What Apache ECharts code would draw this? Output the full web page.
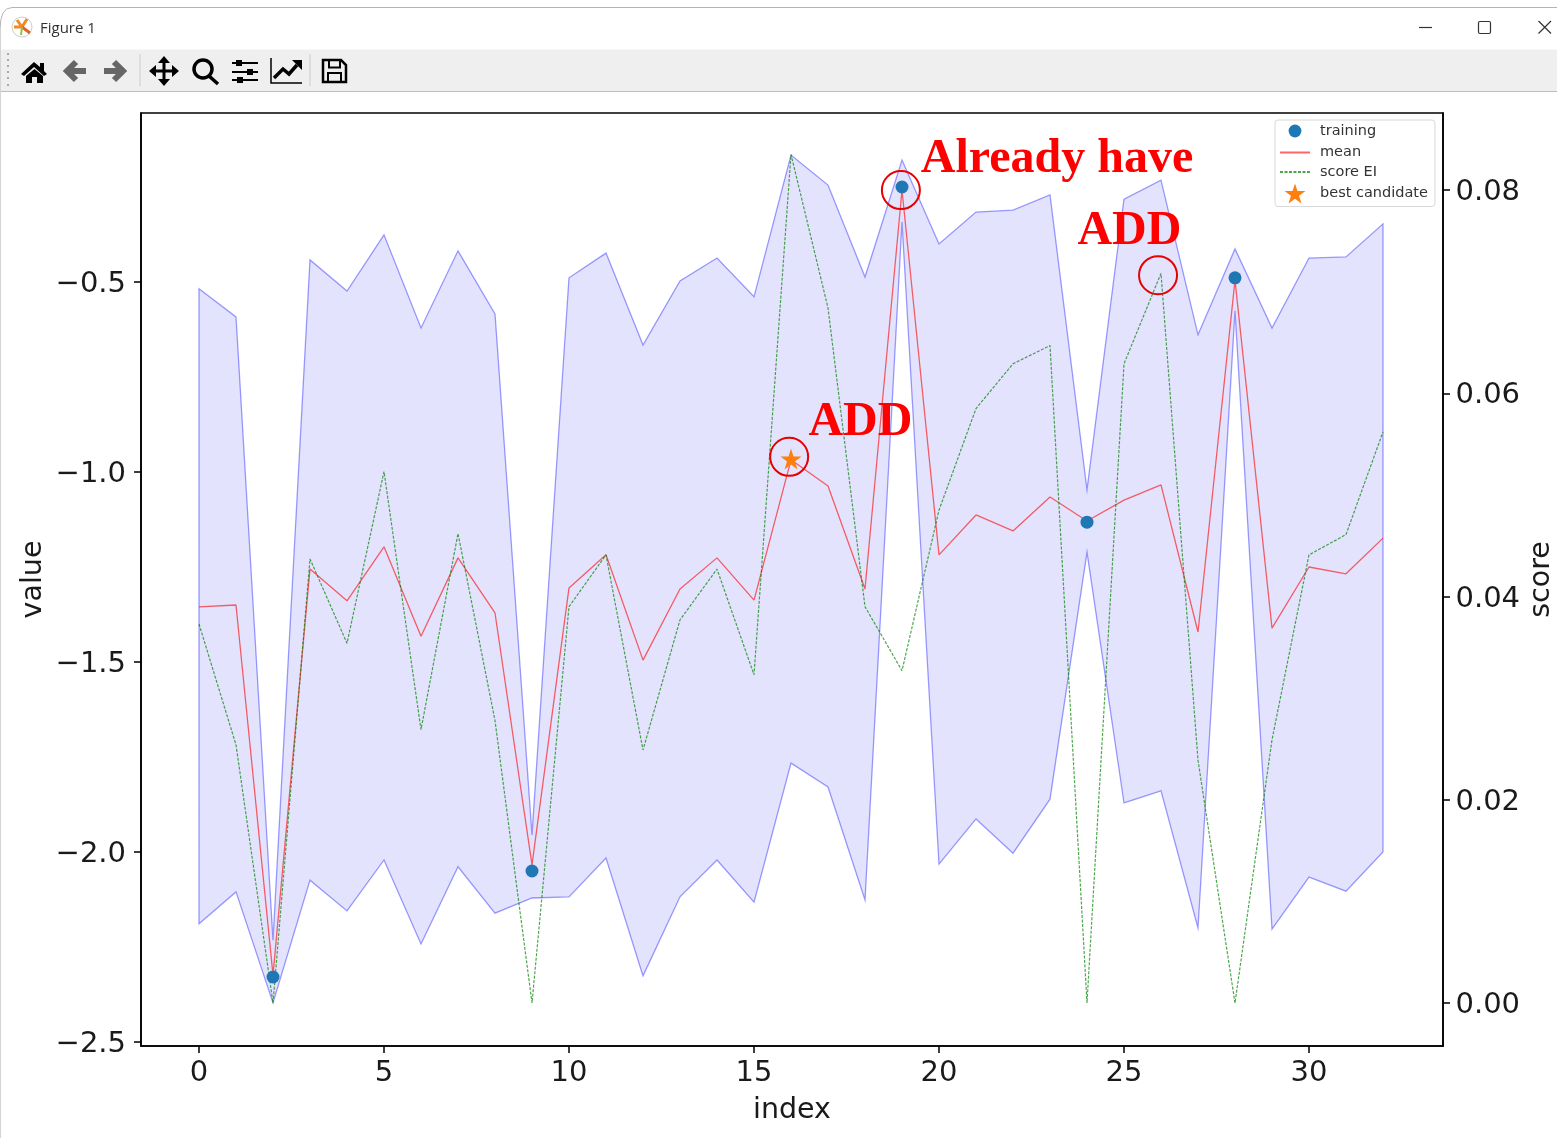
<!DOCTYPE html>
<html>
<head>
<meta charset="utf-8">
<title>Figure 1</title>
<script src="https://cdn.jsdelivr.net/npm/echarts@6/dist/echarts.min.js"></script>
<style>
html,body{margin:0;padding:0;background:#fff;overflow:hidden;width:1557px;height:1138px}
#chart{position:absolute;left:0;top:0;width:1557px;height:1138px}
#chrome{position:absolute;left:0;top:0;width:1557px;height:92px;pointer-events:none}
#title{position:absolute;left:40px;top:17px;font:15px "Open Sans",sans-serif;color:#333;line-height:20px}
#edge{position:absolute;left:0;top:30px;width:1px;height:1108px;background:#d4d4d4}
</style>
</head>
<body>
<div id="chart"></div>
<div id="edge"></div>
<div id="chrome">
<svg width="1557" height="92" style="position:absolute;left:0;top:0">
  <path d="M0 30 Q0 7.5 12 7.5 H1557" fill="none" stroke="#b4b4b4" stroke-width="1"/>
  <rect x="1" y="49.5" width="1556" height="41.5" fill="#efefef"/>
  <line x1="1" y1="91.5" x2="1557" y2="91.5" stroke="#bdbdbd"/>
  <circle cx="22" cy="27" r="10" fill="#fff" stroke="#ccc"/>
  <path d="M22 27 L17 20 M22 27 L27 19 M22 27 L14 27" stroke="#f08a24" stroke-width="3"/>
  <path d="M22 27 L30 33" stroke="#e2622a" stroke-width="3"/>
  <path d="M22 27 L21 35" stroke="#8bc34a" stroke-width="2"/>
  <path d="M1419 27.5 H1432" stroke="#333" stroke-width="1.2"/>
  <rect x="1478.5" y="21.5" width="12" height="12" rx="1.5" fill="none" stroke="#333" stroke-width="1.2"/>
  <path d="M1538.5 21 L1551 33.5 M1551 21 L1538.5 33.5" stroke="#333" stroke-width="1.2"/>
  <g fill="#aaa">
    <rect x="7" y="53" width="2" height="2"/><rect x="7" y="59" width="2" height="2"/><rect x="7" y="65" width="2" height="2"/>
    <rect x="7" y="71" width="2" height="2"/><rect x="7" y="77" width="2" height="2"/><rect x="7" y="84" width="2" height="2"/>
  </g>
  <path d="M34 62 L21 74 L24 76 L34 67 L44 76 L47 74 L44 71 V63 H40 V67 Z M26 76 V83 H32 V77 H37 V83 H43 V76 L34.5 69 Z" fill="#000"/>
  <path d="M86 71 H69 M76 62 L67 71 L76 80" fill="none" stroke="#666" stroke-width="6"/>
  <path d="M104 71 H121 M114 62 L123 71 L114 80" fill="none" stroke="#666" stroke-width="6"/>
  <line x1="140" y1="54" x2="140" y2="86" stroke="#ccc"/>
  <path d="M153 71 H175 M164 60 V82" stroke="#000" stroke-width="3"/>
  <path d="M164 56 L170 63 H158 Z M164 86 L170 79 H158 Z M149 71 L156 65 V77 Z M179 71 L172 65 V77 Z" fill="#000"/>
  <circle cx="203" cy="69" r="9" fill="none" stroke="#000" stroke-width="3.5"/>
  <path d="M209 76 L218 84" stroke="#000" stroke-width="3.5"/>
  <path d="M232 63 H258 M232 72 H258 M232 80 H258" stroke="#000" stroke-width="2"/>
  <rect x="236" y="60" width="6" height="6" fill="#000"/><rect x="247" y="69" width="6" height="6" fill="#000"/><rect x="237" y="77" width="6" height="6" fill="#000"/>
  <path d="M271 58 V83 H302" fill="none" stroke="#000" stroke-width="1.5"/>
  <path d="M274 78 L283 69 L289 74 L297 65" fill="none" stroke="#000" stroke-width="3.5"/>
  <path d="M292 60 H302 V70 Z" fill="#000"/>
  <line x1="310" y1="54" x2="310" y2="86" stroke="#ccc"/>
  <path d="M323 60 H341 L346 65 V82 H323 Z" fill="none" stroke="#000" stroke-width="2.5"/>
  <rect x="329" y="60" width="11" height="7.5" fill="none" stroke="#000" stroke-width="2"/>
  <rect x="328" y="73" width="13" height="9" fill="none" stroke="#000" stroke-width="2"/>
</svg>
<div id="title">Figure 1</div>
</div>
<script>
// ---- data ----
const indexValues = [0,1,2,3,4,5,6,7,8,9,10,11,12,13,14,15,16,17,18,19,20,21,22,23,24,25,26,27,28,29,30,31,32];
const meanValues = [-1.355,-1.35,-2.324,-1.255,-1.339,-1.197,-1.432,-1.226,-1.371,-2.034,-1.305,-1.218,-1.495,-1.308,-1.226,-1.337,-0.968,-1.037,-1.308,-0.258,-1.218,-1.113,-1.155,-1.066,-1.129,-1.074,-1.034,-1.421,-0.495,-1.411,-1.25,-1.268,-1.174];
const upperValues = [-0.518,-0.592,-2.232,-0.442,-0.524,-0.376,-0.621,-0.418,-0.584,-1.955,-0.489,-0.424,-0.666,-0.497,-0.437,-0.539,-0.166,-0.245,-0.487,-0.179,-0.4,-0.316,-0.311,-0.271,-1.047,-0.282,-0.232,-0.639,-0.413,-0.621,-0.437,-0.434,-0.347];
const lowerValues = [-2.189,-2.105,-2.397,-2.074,-2.155,-2.021,-2.242,-2.039,-2.161,-2.121,-2.118,-2.016,-2.326,-2.118,-2.021,-2.132,-1.766,-1.829,-2.126,-0.342,-2.032,-1.913,-2.003,-1.861,-1.211,-1.871,-1.839,-2.2,-0.576,-2.203,-2.066,-2.103,-2.0];
const scoreValues = [0.0373,0.0254,0,0.0437,0.0354,0.0523,0.0269,0.0462,0.0278,0,0.039,0.0441,0.0249,0.0377,0.0427,0.0323,0.0835,0.0684,0.039,0.0327,0.0485,0.0585,0.0629,0.0647,0,0.0629,0.0718,0.0239,0,0.0259,0.0441,0.0461,0.0562];
const trainingX = [2,9,19,24,28];
const trainingY = [-2.329,-2.05,-0.25,-1.132,-0.489];
const bestX = [16];
const bestY = [-0.966];
const circleX = [18.97,15.95,25.92];
const circleY = [-0.258,-0.96,-0.482];
const noteTexts = ['Already have','ADD','ADD'];
const noteX = [19.51,16.47,23.74];
const noteY = [-0.116,-0.806,-0.305];
const xTicks = [0,5,10,15,20,25,30];
const leftTicks = [-2.5,-2,-1.5,-1,-0.5];
const rightTicks = [0,0.02,0.04,0.06,0.08];

const pairs = (xs, ys) => xs.map((x, i) => [x, ys[i]]);
const STAR = 'path://M50 0L61.2 34.5H97.6L68.2 55.9L79.4 90.5L50 69.1L20.6 90.5L31.8 55.9L2.4 34.5H38.8Z';
const DOT_ICON = 'path://M18 50A32 32 0 1 1 82 50A32 32 0 1 1 18 50Z M0 0L0 0 M100 100L100 100';
const FONT = '"DejaVu Sans"';

const chart = echarts.init(document.getElementById('chart'), null, {renderer: 'canvas'});
chart.setOption({
  animation: false,
  backgroundColor: 'transparent',
  textStyle: {fontFamily: FONT},
  grid: {left: 141, right: 114, top: 113, bottom: 92, show: true, borderColor: '#000', borderWidth: 1.6,
    backgroundColor: 'transparent', outerBoundsMode: 'none', containLabel: false},
  legend: {
    orient: 'vertical', left: 1275, top: 120, itemWidth: 30, itemHeight: 20, itemGap: 3.5,
    padding: [1, 7, 3, 4], backgroundColor: '#fff', borderColor: '#d8d8d8', borderWidth: 1, borderRadius: 3,
    textStyle: {fontFamily: FONT, fontSize: 14.5, color: '#333', padding: [0, 0, 0, 5]},
    data: [{name: 'training', icon: DOT_ICON}, {name: 'mean', itemStyle: {color: 'transparent'}}, {name: 'score EI', itemStyle: {color: 'transparent'}}, {name: 'best candidate', icon: STAR}],
    selectedMode: false
  },
  xAxis: {
    type: 'value', min: -1.5676, max: 33.6216, name: 'index', nameLocation: 'middle', nameGap: 50,
    nameTextStyle: {fontSize: 28.5, color: '#1a1a1a', fontFamily: FONT},
    axisLine: {show: true, onZero: false, lineStyle: {color: '#000', width: 1.6}},
    axisTick: {show: true, length: 7, lineStyle: {color: '#000', width: 1.5}, customValues: xTicks},
    axisLabel: {fontSize: 29, color: '#1a1a1a', margin: 13, fontFamily: FONT, customValues: xTicks, formatter: v => String(v)},
    splitLine: {show: false}
  },
  yAxis: [{
    type: 'value', min: -2.5105, max: -0.0553, name: 'value', nameLocation: 'middle', nameGap: 93, nameMoveOverlap: false,
    nameTextStyle: {fontSize: 28.5, color: '#1a1a1a', fontFamily: FONT},
    axisLine: {show: true, onZero: false, lineStyle: {color: '#000', width: 1.6}},
    axisTick: {show: true, length: 7, lineStyle: {color: '#000', width: 1.5}, customValues: leftTicks},
    axisLabel: {fontSize: 29, color: '#1a1a1a', margin: 15, verticalAlign: 'top', lineHeight: 5, fontFamily: FONT, customValues: leftTicks, formatter: v => v.toFixed(1).replace('-', '\u2212')},
    splitLine: {show: false}
  }, {
    type: 'value', position: 'right', min: -0.00423, max: 0.08758, name: 'score', nameLocation: 'middle', nameGap: 84, nameMoveOverlap: false,
    nameTextStyle: {fontSize: 28.5, color: '#1a1a1a', fontFamily: FONT},
    axisLine: {show: true, onZero: false, lineStyle: {color: '#000', width: 1.6}},
    axisTick: {show: true, length: 7, lineStyle: {color: '#000', width: 1.5}, customValues: rightTicks},
    axisLabel: {fontSize: 29, color: '#1a1a1a', margin: 12.5, verticalAlign: 'top', lineHeight: 5, fontFamily: FONT, customValues: rightTicks, formatter: v => v.toFixed(2)},
    splitLine: {show: false}
  }],
  series: [
    {
      type: 'custom', name: 'band', silent: true, xAxisIndex: 0, yAxisIndex: 0, z: 1,
      data: [[0, upperValues[0]]],
      renderItem: (params, api) => {
        const top = indexValues.map((x, i) => api.coord([x, upperValues[i]]));
        const bottom = indexValues.map((x, i) => api.coord([x, lowerValues[i]])).reverse();
        return {type: 'polygon', shape: {points: top.concat(bottom)},
          style: {fill: 'rgba(40,40,240,0.13)', stroke: 'rgba(0,0,255,0.38)', lineWidth: 1.3}};
      }
    },
    {type: 'line', name: 'mean', data: pairs(indexValues, meanValues), symbol: 'none', z: 3, silent: true,
      lineStyle: {color: 'rgba(255,0,0,0.6)', width: 1.3}, itemStyle: {color: 'rgba(255,0,0,0.6)'}},
    {type: 'line', name: 'score EI', yAxisIndex: 1, data: pairs(indexValues, scoreValues), symbol: 'none', z: 3, silent: true,
      lineStyle: {color: 'rgba(0,128,0,0.7)', width: 1.2, type: [3, 1.5]}, itemStyle: {color: 'rgba(0,128,0,0.7)'}},
    {type: 'scatter', name: 'training', data: pairs(trainingX, trainingY), symbol: 'circle', symbolSize: 13, z: 4, silent: true,
      itemStyle: {color: '#1f77b4', opacity: 1}},
    {type: 'scatter', name: 'best candidate', data: pairs(bestX, bestY), symbol: STAR, symbolSize: 21, z: 4, silent: true,
      itemStyle: {color: '#ff7f0e', opacity: 1}},
    {type: 'scatter', name: 'circled', data: pairs(circleX, circleY), symbol: 'circle', symbolSize: 38, z: 5, silent: true,
      itemStyle: {color: 'transparent', borderColor: '#e60000', borderWidth: 2, opacity: 1}},
    {
      type: 'custom', name: 'notes', silent: true, xAxisIndex: 0, yAxisIndex: 0, z: 6,
      data: noteTexts.map((t, i) => [noteX[i], noteY[i], t]),
      renderItem: (params, api) => {
        const p = api.coord([api.value(0), api.value(1)]);
        return {type: 'text', style: {x: p[0], y: p[1], text: noteTexts[params.dataIndex], fill: '#ff0000',
          font: 'bold 48px "Liberation Serif"', align: 'left', verticalAlign: 'top'}};
      }
    }
  ]
});
</script>
</body>
</html>
